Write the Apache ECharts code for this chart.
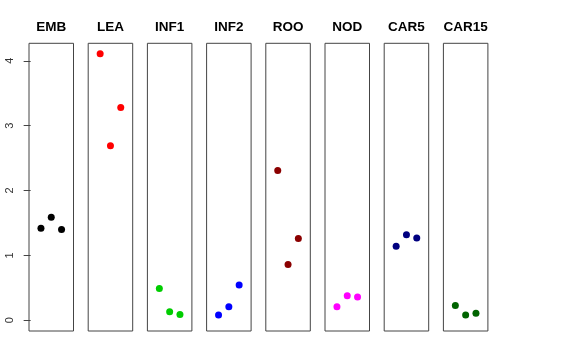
<!DOCTYPE html>
<html><head><meta charset="utf-8">
<script src="https://cdn.jsdelivr.net/npm/echarts@6/dist/echarts.min.js"></script>
<style>html,body{margin:0;padding:0;background:#fff}#c{width:576px;height:360px}</style>
</head><body><div id="c"></div>
<script>
const categories = ['EMB','LEA','INF1','INF2','ROO','NOD','CAR5','CAR15'];
const colors = ['#000000','#FF0000','#00CD00','#0000FF','#8B0000','#FF00FF','#000080','#006400'];
const xPositions = [1,2,3];
const EMB = [1.42,1.59,1.40];
const LEA = [4.11,2.69,3.28];
const INF1 = [0.49,0.13,0.09];
const INF2 = [0.08,0.21,0.545];
const ROO = [2.31,0.86,1.26];
const NOD = [0.21,0.38,0.36];
const CAR5 = [1.14,1.32,1.27];
const CAR15 = [0.23,0.08,0.11];
const yTicks = [0,1,2,3,4];
const values = [EMB,LEA,INF1,INF2,ROO,NOD,CAR5,CAR15];

const grids=[],xAxes=[],yAxes=[],series=[];
categories.forEach((name,i)=>{
  grids.push({left:29+i*59.2,top:43.3,width:44.5,height:287.7,show:true,borderColor:'#444',borderWidth:1,backgroundColor:'transparent'});
  xAxes.push({gridIndex:i,type:'value',min:-0.16,max:4.16,position:'top',
    name:name,nameLocation:'middle',nameGap:9,
    nameTextStyle:{fontFamily:'Liberation Sans',fontWeight:'bold',fontSize:13.5,color:'#000'},
    axisLine:{show:false},axisTick:{show:false},axisLabel:{show:false},splitLine:{show:false}});
  const first=i===0;
  yAxes.push({gridIndex:i,type:'value',min:-0.165,max:4.27,interval:1,
    axisLine:{show:false},
    axisTick:{show:first,length:7,lineStyle:{color:'#444'},customValues:yTicks},
    axisLabel:{show:first,rotate:90,margin:14,fontFamily:'Liberation Sans',fontSize:11,color:'#333',customValues:yTicks},
    splitLine:{show:false}});
  series.push({type:'scatter',xAxisIndex:i,yAxisIndex:i,symbol:'circle',symbolSize:7,
    itemStyle:{color:colors[i],opacity:1},data:xPositions.map((x,j)=>[x,values[i][j]])});
});
const chart=echarts.init(document.getElementById('c'),null,{renderer:'canvas'});
chart.setOption({animation:false,grid:grids,xAxis:xAxes,yAxis:yAxes,series:series});
</script></body></html>
